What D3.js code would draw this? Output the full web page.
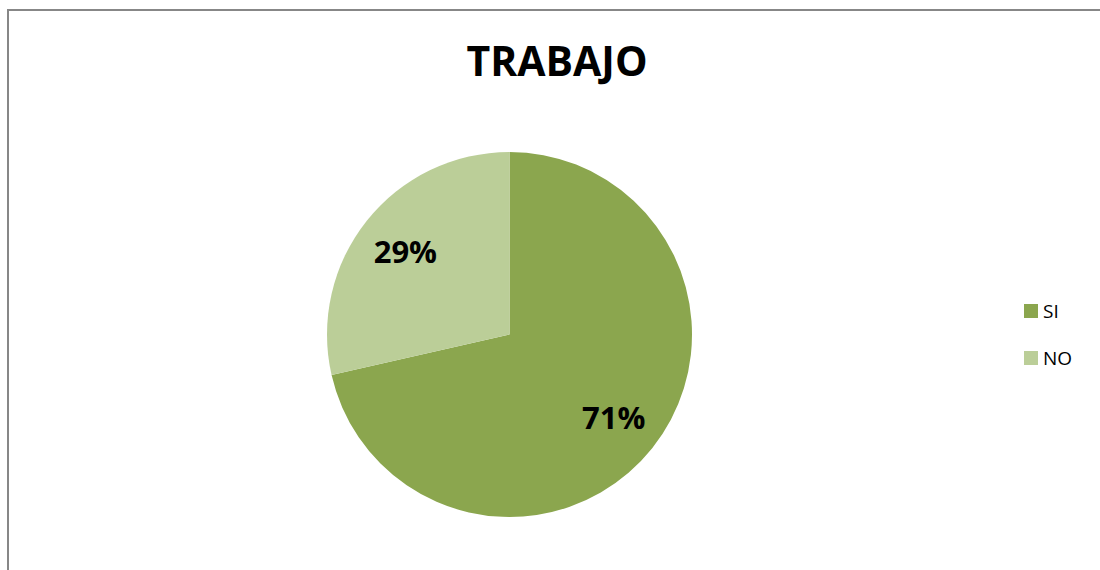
<!DOCTYPE html>
<html>
<head>
<meta charset="utf-8">
<script src="https://cdn.jsdelivr.net/npm/d3@7"></script>
<style>
  body { margin: 0; background: #fff; }
  svg { display: block; font-family: "Open Sans", sans-serif; }
</style>
</head>
<body>
<div id="chart"></div>
<script>
// chart data (counts; labels show the share of each)
var categories = ['SI', 'NO'];
var values = [25, 10];
var colors = ['#8ba64e', '#bbce98'];
var title = 'TRABAJO';

var width = 1100, height = 570;
var cx = 509.5, cy = 334.5, radius = 182.5;

var svg = d3.select('#chart').append('svg')
    .attr('width', width)
    .attr('height', height);

// frame (cut off at right and bottom like the original)
svg.append('rect')
    .attr('x', 8).attr('y', 10)
    .attr('width', 1200).attr('height', 700)
    .attr('fill', 'none')
    .attr('stroke', '#878787')
    .attr('stroke-width', 2);

svg.append('text')
    .attr('x', 557).attr('y', 76)
    .attr('text-anchor', 'middle')
    .attr('font-size', 41)
    .attr('font-weight', 'bold')
    .text(title);

var data = categories.map(function (c, i) { return { name: c, value: values[i] }; });

var color = d3.scaleOrdinal().domain(categories).range(colors);

var pie = d3.pie()
    .sort(null)
    .value(function (d) { return d.value; });

var arc = d3.arc().innerRadius(0).outerRadius(radius);
var labelArc = d3.arc().innerRadius(radius * 0.73).outerRadius(radius * 0.73);

var g = svg.append('g').attr('transform', 'translate(' + cx + ',' + cy + ')');

var slices = g.selectAll('.slice')
    .data(pie(data))
    .enter().append('g')
    .attr('class', 'slice');

slices.append('path')
    .attr('d', arc)
    .attr('fill', function (d) { return color(d.data.name); });

var total = d3.sum(values);
slices.append('text')
    .attr('transform', function (d) { return 'translate(' + labelArc.centroid(d) + ')'; })
    .attr('text-anchor', 'middle')
    .attr('dy', '0.36em')
    .attr('font-size', 31)
    .attr('font-weight', 'bold')
    .text(function (d) { return Math.round(d.data.value / total * 100) + '%'; });

// legend
var legend = svg.append('g').attr('transform', 'translate(1024,304)');
var item = legend.selectAll('.item')
    .data(categories)
    .enter().append('g')
    .attr('class', 'item')
    .attr('transform', function (d, i) { return 'translate(0,' + (i * 47) + ')'; });

item.append('rect')
    .attr('width', 14).attr('height', 14)
    .attr('fill', function (d) { return color(d); });

item.append('text')
    .attr('x', 19).attr('y', 14)
    .attr('font-size', 19)
    .text(function (d) { return d; });
</script>
</body>
</html>
